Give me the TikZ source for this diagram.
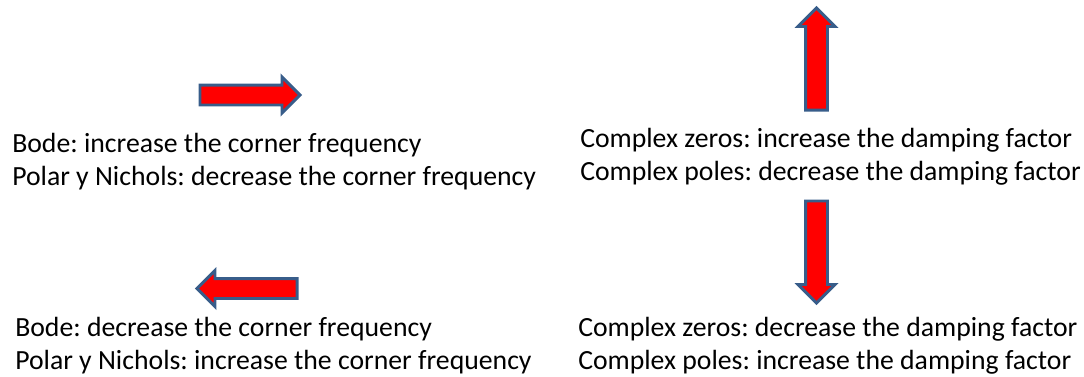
\documentclass[tikz,border=0pt]{standalone}
\usepackage{fontspec}
\setmainfont{Carlito}
\usetikzlibrary{shapes.arrows}
\definecolor{rimblue}{RGB}{56,93,138}
\frenchspacing
\begin{document}
\begin{tikzpicture}[x=0.75pt,y=-0.75pt,
  blockarrow/.style={single arrow,fill=red,draw=rimblue,line width=2.2pt,
    inner xsep=0pt,inner ysep=8.5*0.75pt,text height=0pt,text depth=0pt,
    minimum height=100*0.75pt,single arrow head extend=8*0.75pt,
    single arrow head indent=0pt,anchor=tail},
  txt/.style={anchor=base west,align=left,inner sep=0pt,
    font=\fontsize{20.8}{24.75}\selectfont}]
\useasboundingbox (0,0) rectangle (1084,376);

% left: corner frequency
\node [blockarrow] (arrR) at (198.5,95) {};
\node [txt] (bodeup) at (12,185) {Bode: increase the corner frequency\\Polar y Nichols: decrease the corner frequency};

\node [blockarrow,rotate=180] (arrL) at (298.5,288.5) {};
\node [txt] (bodedown) at (15,369) {Bode: decrease the corner frequency\\Polar y Nichols: increase the corner frequency};

% right: damping factor
\node [blockarrow,minimum height=102*0.75pt,inner ysep=9.5*0.75pt,single arrow head extend=7.5*0.75pt,rotate=90] (arrU) at (816.5,111.5) {};
\node [txt] (dampup) at (580,180) {Complex zeros: increase the damping factor\\Complex poles: decrease the damping factor};

\node [blockarrow,minimum height=102*0.75pt,inner ysep=9.5*0.75pt,single arrow head extend=7.5*0.75pt,rotate=-90] (arrD) at (816.5,199.5) {};
\node [txt] (dampdown) at (578,369) {Complex zeros: decrease the damping factor\\Complex poles: increase the damping factor};

\end{tikzpicture}
\end{document}
